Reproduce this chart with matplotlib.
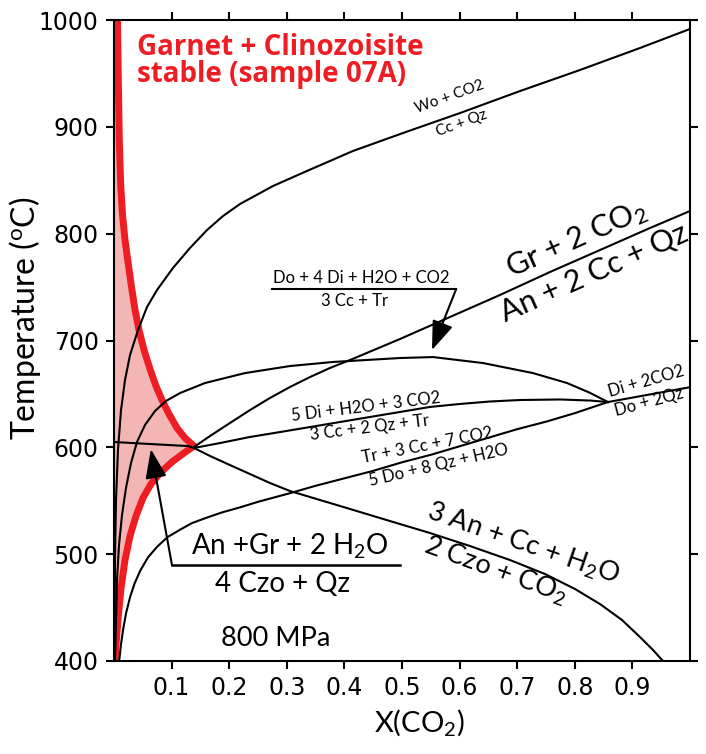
import matplotlib
matplotlib.use('Agg')
import matplotlib.pyplot as plt

plt.rcParams['font.family'] = ['Lato', 'DejaVu Sans']
plt.rcParams['mathtext.default'] = 'regular'

# X(CO2) and temperature (oC)
wo_x = [0.0009, 0.0017, 0.0035, 0.0069, 0.0122, 0.0191, 0.0278, 0.0417, 0.0573,
        0.0747, 0.1024, 0.1319, 0.1615, 0.1892, 0.2188, 0.276, 0.3351, 0.4149,
        0.5017, 0.6007, 0.7049, 0.809, 0.9132, 1.0]
wo_t = [400, 494.5, 550.7, 597.5, 634.9, 663.0, 686.4, 709.8, 731.3,
        747.3, 767.9, 786.6, 803.4, 816.5, 827.8, 844.6, 858.7, 877.4,
        894.2, 912.9, 933.5, 953.2, 973.8, 991.6]

arch_x = [0.0017, 0.0035, 0.0052, 0.0087, 0.0139, 0.0208, 0.0295, 0.0399, 0.0538,
          0.0712, 0.0903, 0.1146, 0.158, 0.2274, 0.3056, 0.3802, 0.4965, 0.5538,
          0.6406, 0.7274, 0.7865, 0.8264, 0.8576]
arch_t = [400, 438.4, 475.8, 508.6, 536.6, 561.9, 585.3, 605.0, 620.9,
          634.0, 643.4, 650.8, 660.2, 669.5, 676.1, 679.9, 683.6, 684.5,
          678.9, 669.5, 660.2, 651.0, 642.4]

tr_x = [0.009, 0.012, 0.016, 0.021, 0.028, 0.036, 0.046, 0.059, 0.075, 0.093,
        0.115, 0.135, 0.16, 0.187, 0.22, 0.25, 0.305, 0.35, 0.40, 0.45,
        0.50, 0.55, 0.60, 0.65, 0.70, 0.75, 0.80, 0.8576]
tr_t = [400, 415, 430, 445, 460, 473, 485, 497, 507, 516,
        523, 529, 534, 539, 544, 549, 557, 564, 571, 578,
        586, 593, 601, 609, 617, 624, 632, 642.4]

di5_x = [0.1389, 0.184, 0.2361, 0.2882, 0.3403, 0.3924, 0.4444, 0.4965,
         0.5486, 0.6007, 0.6528, 0.7049, 0.7743, 0.8264, 0.8576]
di5_t = [599.4, 604.0, 609.7, 614.3, 619.0, 623.7, 628.4, 633.1,
         637.8, 640.6, 642.9, 644.3, 644.8, 643.8, 642.4]

gr_x = [0.1389, 0.1667, 0.2014, 0.2361, 0.2708, 0.3056, 0.3403, 0.375,
        0.4097, 0.4965, 0.5833, 0.6701, 0.7569, 0.8438, 0.9306, 1.0]
gr_t = [600.3, 610.6, 622.8, 634.9, 646.2, 656.5, 665.8, 674.3,
        681.7, 701.4, 722.0, 742.6, 764.1, 784.7, 805.3, 821.2]

an_x = [0.0, 0.0625, 0.1285, 0.1389, 0.1667, 0.2014, 0.2361, 0.2708, 0.3056,
        0.3576, 0.4097, 0.4792, 0.5486, 0.6181, 0.6875, 0.7483, 0.8003,
        0.8438, 0.8819, 0.9132, 0.9358, 0.9531]
an_t = [605.0, 603.1, 601.2, 599.4, 591.9, 583.4, 575.0, 566.6, 559.1,
        550.7, 542.3, 531.0, 519.8, 507.6, 494.5, 481.4, 467.4,
        453.3, 438.4, 422.4, 410.3, 400]

dido_x = [0.8576, 1.0]
dido_t = [642.4, 656.3]

red_up_x = [0.0061, 0.0075, 0.0092, 0.0116, 0.0148, 0.0191, 0.0243, 0.0304,
            0.0365, 0.0434, 0.0521, 0.0625, 0.0729, 0.0833, 0.0955, 0.1094,
            0.1233, 0.1389]
red_up_t = [1000, 943.8, 887.7, 845.5, 817.5, 794.1, 773.5, 750.1,
            728.6, 709.8, 691.1, 673.3, 657.4, 644.3, 631.2, 618.1,
            608.7, 601.2]
red_lo_x = [0.1389, 0.1215, 0.1007, 0.0816, 0.0642, 0.0503, 0.0382, 0.0278,
            0.0191, 0.0122, 0.0069, 0.0035, 0.0017]
red_lo_t = [601.2, 594.7, 586.3, 576.9, 565.7, 552.6, 535.7, 517.0,
            494.5, 468.3, 438.4, 415.0, 400]

x_ticks = [0.1, 0.2, 0.3, 0.4, 0.5, 0.6, 0.7, 0.8, 0.9]
t_ticks = [400, 500, 600, 700, 800, 900, 1000]

red = '#ee1d23'
pink = '#f4b5b5'

fig = plt.figure(figsize=(7.06, 7.54), dpi=100)
ax = fig.add_axes([114 / 706, 93 / 754, 576 / 706, 641 / 754])
ax.set_xlim(0, 1)
ax.set_ylim(400, 1000)

# stability field of garnet + clinozoisite
fx = [0] + red_up_x + red_lo_x[1:] + [0]
ft = [1000] + red_up_t + red_lo_t[1:] + [400]
ax.fill(fx, ft, color=pink, lw=0, zorder=1)
ax.plot(red_up_x, red_up_t, color=red, lw=5, solid_capstyle='round', zorder=2)
ax.plot(red_lo_x, red_lo_t, color=red, lw=5, solid_capstyle='round', zorder=2)

for xs, ts in [(wo_x, wo_t), (arch_x, arch_t), (tr_x, tr_t), (di5_x, di5_t),
               (gr_x, gr_t), (an_x, an_t), (dido_x, dido_t)]:
    ax.plot(xs, ts, color='black', lw=1.5, zorder=3)


# reaction labels
def lab(x, t, s, size, rot=0, va='baseline', ha='center'):
    ax.text(x, t, s, fontsize=size, rotation=rot, rotation_mode='anchor',
            ha=ha, va=va, zorder=4)


arrow_style = dict(arrowstyle='-|>,head_length=0.9,head_width=0.33',
                   color='black', lw=1.5, mutation_scale=20,
                   shrinkA=0, shrinkB=0)

lab(0.582, 928, 'Wo + CO2', 11, 20, va='center')
lab(0.604, 903.6, 'Cc + Qz', 11, 20, va='center')

lab(0.809, 787.5, 'Gr + 2 CO$_2$', 22, 24)
lab(0.840, 755.6, 'An + 2 Cc + Qz', 22, 24)

lab(0.429, 751, 'Do + 4 Di + H2O + CO2', 12, va='bottom')
lab(0.418, 744.4, '3 Cc + Tr', 12, va='top')
ax.plot([0.274, 0.594], [748.1, 748.1], color='black', lw=1.5, zorder=3)
ax.annotate('', xy=(0.552, 691), xytext=(0.594, 748.1),
            arrowprops=arrow_style, zorder=4)

lab(0.439, 633, '5 Di + H2O + 3 CO2', 12, 7)
lab(0.444, 618, '3 Cc + 2 Qz + Tr', 12, 7, va='center')
lab(0.545, 597.4, 'Tr + 3 Cc + 7 CO2', 12, 11)
lab(0.566, 578.7, '5 Do + 8 Qz + H2O', 12, 13)
lab(0.927, 657.3, 'Di + 2CO2', 12, 16)
lab(0.932, 637.6, 'Do + 2Qz', 12, 15)

lab(0.705, 503, '3 An + Cc + H$_2$O', 19.5, -19)
lab(0.658, 477.5, '2 Czo + CO$_2$', 19.5, -20)

lab(0.306, 493.4, 'An +Gr + 2 H$_2$O', 20, va='bottom')
lab(0.293, 484, '4 Czo + Qz', 20, va='top')
ax.plot([0.1007, 0.4965], [489.7, 489.7], color='black', lw=1.8, zorder=3)
ax.annotate('', xy=(0.064, 598.3), xytext=(0.1007, 489.7),
            arrowprops=arrow_style, zorder=4)

lab(0.281, 421.3, '800 MPa', 19.5, va='center')

ax.text(0.040, 967.2, 'Garnet + Clinozoisite', color=red, fontsize=20,
        fontfamily='Open Sans', fontweight='bold', ha='left', va='baseline',
        zorder=4)
ax.text(0.040, 942, 'stable (sample 07A)', color=red, fontsize=20,
        fontfamily='Open Sans', fontweight='bold', ha='left', va='baseline',
        zorder=4)

# axes styling
for sp in ax.spines.values():
    sp.set_linewidth(1.5)
ax.set_xticks(x_ticks)
ax.set_xticklabels([f'{v:.1f}' for v in x_ticks], fontfamily='DejaVu Sans')
ax.set_yticks(t_ticks)
ax.set_yticklabels([str(v) for v in t_ticks], fontfamily='DejaVu Sans')
ax.tick_params(direction='out', length=6, width=1.5, top=True, right=True,
               labelsize=17, pad=5)

ax.set_ylabel('Temperature ($^o$C)', fontsize=23)
ax.yaxis.set_label_coords(-0.123, 0.535)
ax.set_xlabel('X(CO$_2$)', fontsize=21)
ax.xaxis.set_label_coords(0.53, -0.072)

fig.savefig('out.png', dpi=100)
